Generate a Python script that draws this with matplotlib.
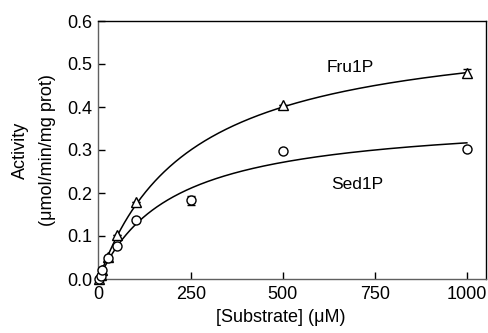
import numpy as np
import matplotlib
matplotlib.use("Agg")
import matplotlib.pyplot as plt

plt.rcParams['font.family'] = ['Liberation Sans', 'DejaVu Sans']

# Data
fru_x = [0, 5, 10, 25, 50, 100, 500, 1000]
fru_y = [0.0, 0.01, 0.022, 0.052, 0.102, 0.180, 0.405, 0.479]
fru_err = [0, 0, 0, 0, 0, 0, 0, 0.009]
sed_x = [0, 5, 10, 25, 50, 100, 250, 500, 1000]
sed_y = [0.0, 0.008, 0.02, 0.048, 0.077, 0.137, 0.183, 0.298, 0.302]
sed_err = [0, 0, 0, 0, 0, 0, 0.011, 0, 0]

# Michaelis-Menten fit parameters
fru_vmax, fru_km = 0.60, 250.0
sed_vmax, sed_km = 0.38, 200.0

xticks = [0, 250, 500, 750, 1000]
yticks = [0.0, 0.1, 0.2, 0.3, 0.4, 0.5, 0.6]

W, H = 488, 333
fig = plt.figure(figsize=(W/100, H/100), dpi=100)
ax = fig.add_axes([98/W, 1 - 279/H, (486-98)/W, (279-21)/H])

xs = np.linspace(0, 1000, 400)
ax.plot(xs, fru_vmax * xs / (fru_km + xs), color='black', lw=1.1)
ax.plot(xs, sed_vmax * xs / (sed_km + xs), color='black', lw=1.1)

for x, y, e, m in [(fru_x, fru_y, fru_err, '^'), (sed_x, sed_y, sed_err, 'o')]:
    c = ax.errorbar(x, y, yerr=e, fmt=m, ms=6.5, mfc='white', mec='black',
                    mew=1.0, ecolor='black', elinewidth=1.0, capsize=3,
                    capthick=1.0, zorder=3)
    for art in c.get_children():
        art.set_clip_on(False)

ax.text(682, 0.491, 'Fru1P', fontsize=12.5, ha='center', va='center')
ax.text(701, 0.219, 'Sed1P', fontsize=12.5, ha='center', va='center')

ax.set_xlim(-2, 1052)
ax.set_ylim(0, 0.6)
ax.set_xticks(xticks)
ax.set_yticks(yticks)
ax.set_yticklabels([f'{v:.1f}' for v in yticks])
ax.tick_params(direction='in', length=5, width=1, labelsize=13, colors='black')
ax.tick_params(axis='y', pad=4)
ax.tick_params(axis='x', pad=5)
ax.spines['left'].set_color('#606060')
ax.spines['bottom'].set_color('#606060')
for s in ax.spines.values():
    s.set_linewidth(1.0)

fig.text(281/W, 1 - 318/H, '[Substrate] (\u03bcM)', fontsize=13, ha='center', va='center')
fig.text(20/W, 1 - 150/H, 'Activity', fontsize=13, ha='center', va='center', rotation=90)
fig.text(48/W, 1 - 150/H, '(\u03bcmol/min/mg prot)', fontsize=13, ha='center', va='center', rotation=90)

fig.savefig('out.png', dpi=100)
